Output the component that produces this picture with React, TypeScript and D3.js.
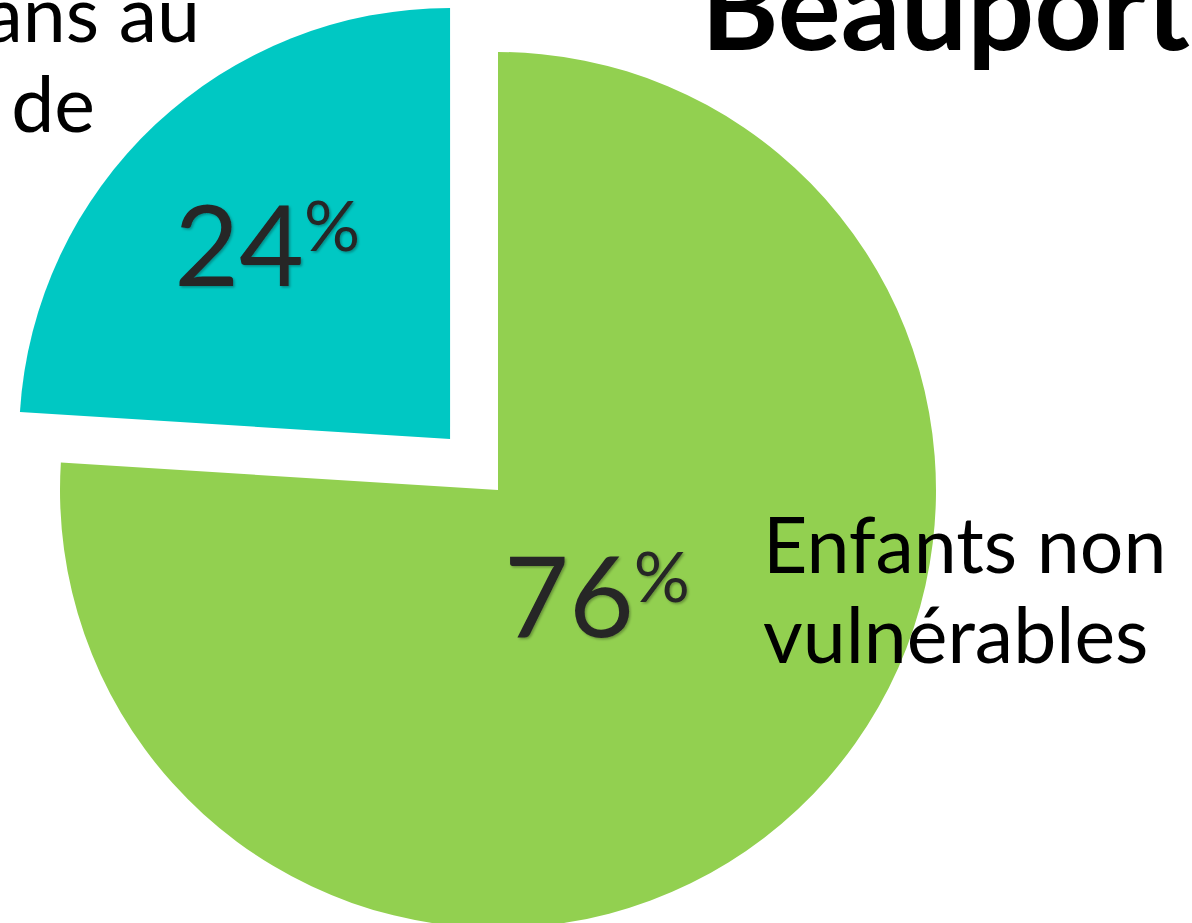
import React from "react";
import * as d3 from "d3";

const categories = [
  "Enfants non vulnérables",
  "Enfants vulnérables dans au moins un domaine de développement",
];
const values = [76, 24];
const colors = ["#92D050", "#00C8C3"];
const labelLines = [
  ["Enfants non", "vulnérables"],
  ["Enfants vulnérables dans au", "moins un domaine de", "développement"],
];
const title = "Beauport";

const W = 1192;
const H = 923;
const cx = 498;
const cy = 490;
const radii = [438, 431];
const explode = [0, 70];
const labelFrac = [0.33, 0.62];
const FONT = "Lato, 'Open Sans', sans-serif";

export default function App() {
  const pie = d3
    .pie<number>()
    .sort(null)
    .value((d) => d)
    .startAngle(0)
    .endAngle(2 * Math.PI);
  const arcs = pie(values);

  return (
    <svg
      width={W}
      height={H}
      style={{ position: "absolute", left: 0, top: 0, background: "#fff" }}
      fontFamily={FONT}
    >
      <defs>
        <filter id="sh" x="-10%" y="-10%" width="130%" height="130%">
          <feDropShadow dx="1.5" dy="1.5" stdDeviation="1.2" floodColor="#000" floodOpacity="0.3" />
        </filter>
      </defs>
      {arcs.map((a, i) => {
        const mid = (a.startAngle + a.endAngle) / 2;
        const ox = Math.sin(mid) * explode[i];
        const oy = -Math.cos(mid) * explode[i];
        const arcGen = d3.arc<d3.PieArcDatum<number>>().innerRadius(0).outerRadius(radii[i]);
        const lr = radii[i] * labelFrac[i];
        const [lx, ly] = d3.arc<d3.PieArcDatum<number>>().innerRadius(lr).outerRadius(lr).centroid(a);
        return (
          <g key={categories[i]} transform={`translate(${cx + ox},${cy + oy})`}>
            <path d={arcGen(a) || ""} fill={colors[i]} />
            <text
              x={lx}
              y={ly + 42}
              textAnchor="middle"
              fill="#262626"
              filter="url(#sh)"
            >
              <tspan fontSize={112}>{values[i]}</tspan>
              <tspan fontSize={70} dy={-35}>%</tspan>
            </text>
          </g>
        );
      })}
      {/* category label, right */}
      <text fontSize={77} fill="#000">
        {labelLines[0].map((l, k) => (
          <tspan key={l} x={763} y={573 + k * 90}>
            {l}
          </tspan>
        ))}
      </text>
      {/* category label, top-left (cut by the frame) */}
      <text fontSize={77} fill="#000" textAnchor="end">
        {labelLines[1].map((l, k) => (
          <tspan key={l} x={[200, 95, -15][k]} y={42 + k * 90}>
            {l}
          </tspan>
        ))}
      </text>
      <text x={1190} y={50} fontSize={118} fontWeight="bold" textAnchor="end" fill="#000">
        {title}
      </text>
    </svg>
  );
}
